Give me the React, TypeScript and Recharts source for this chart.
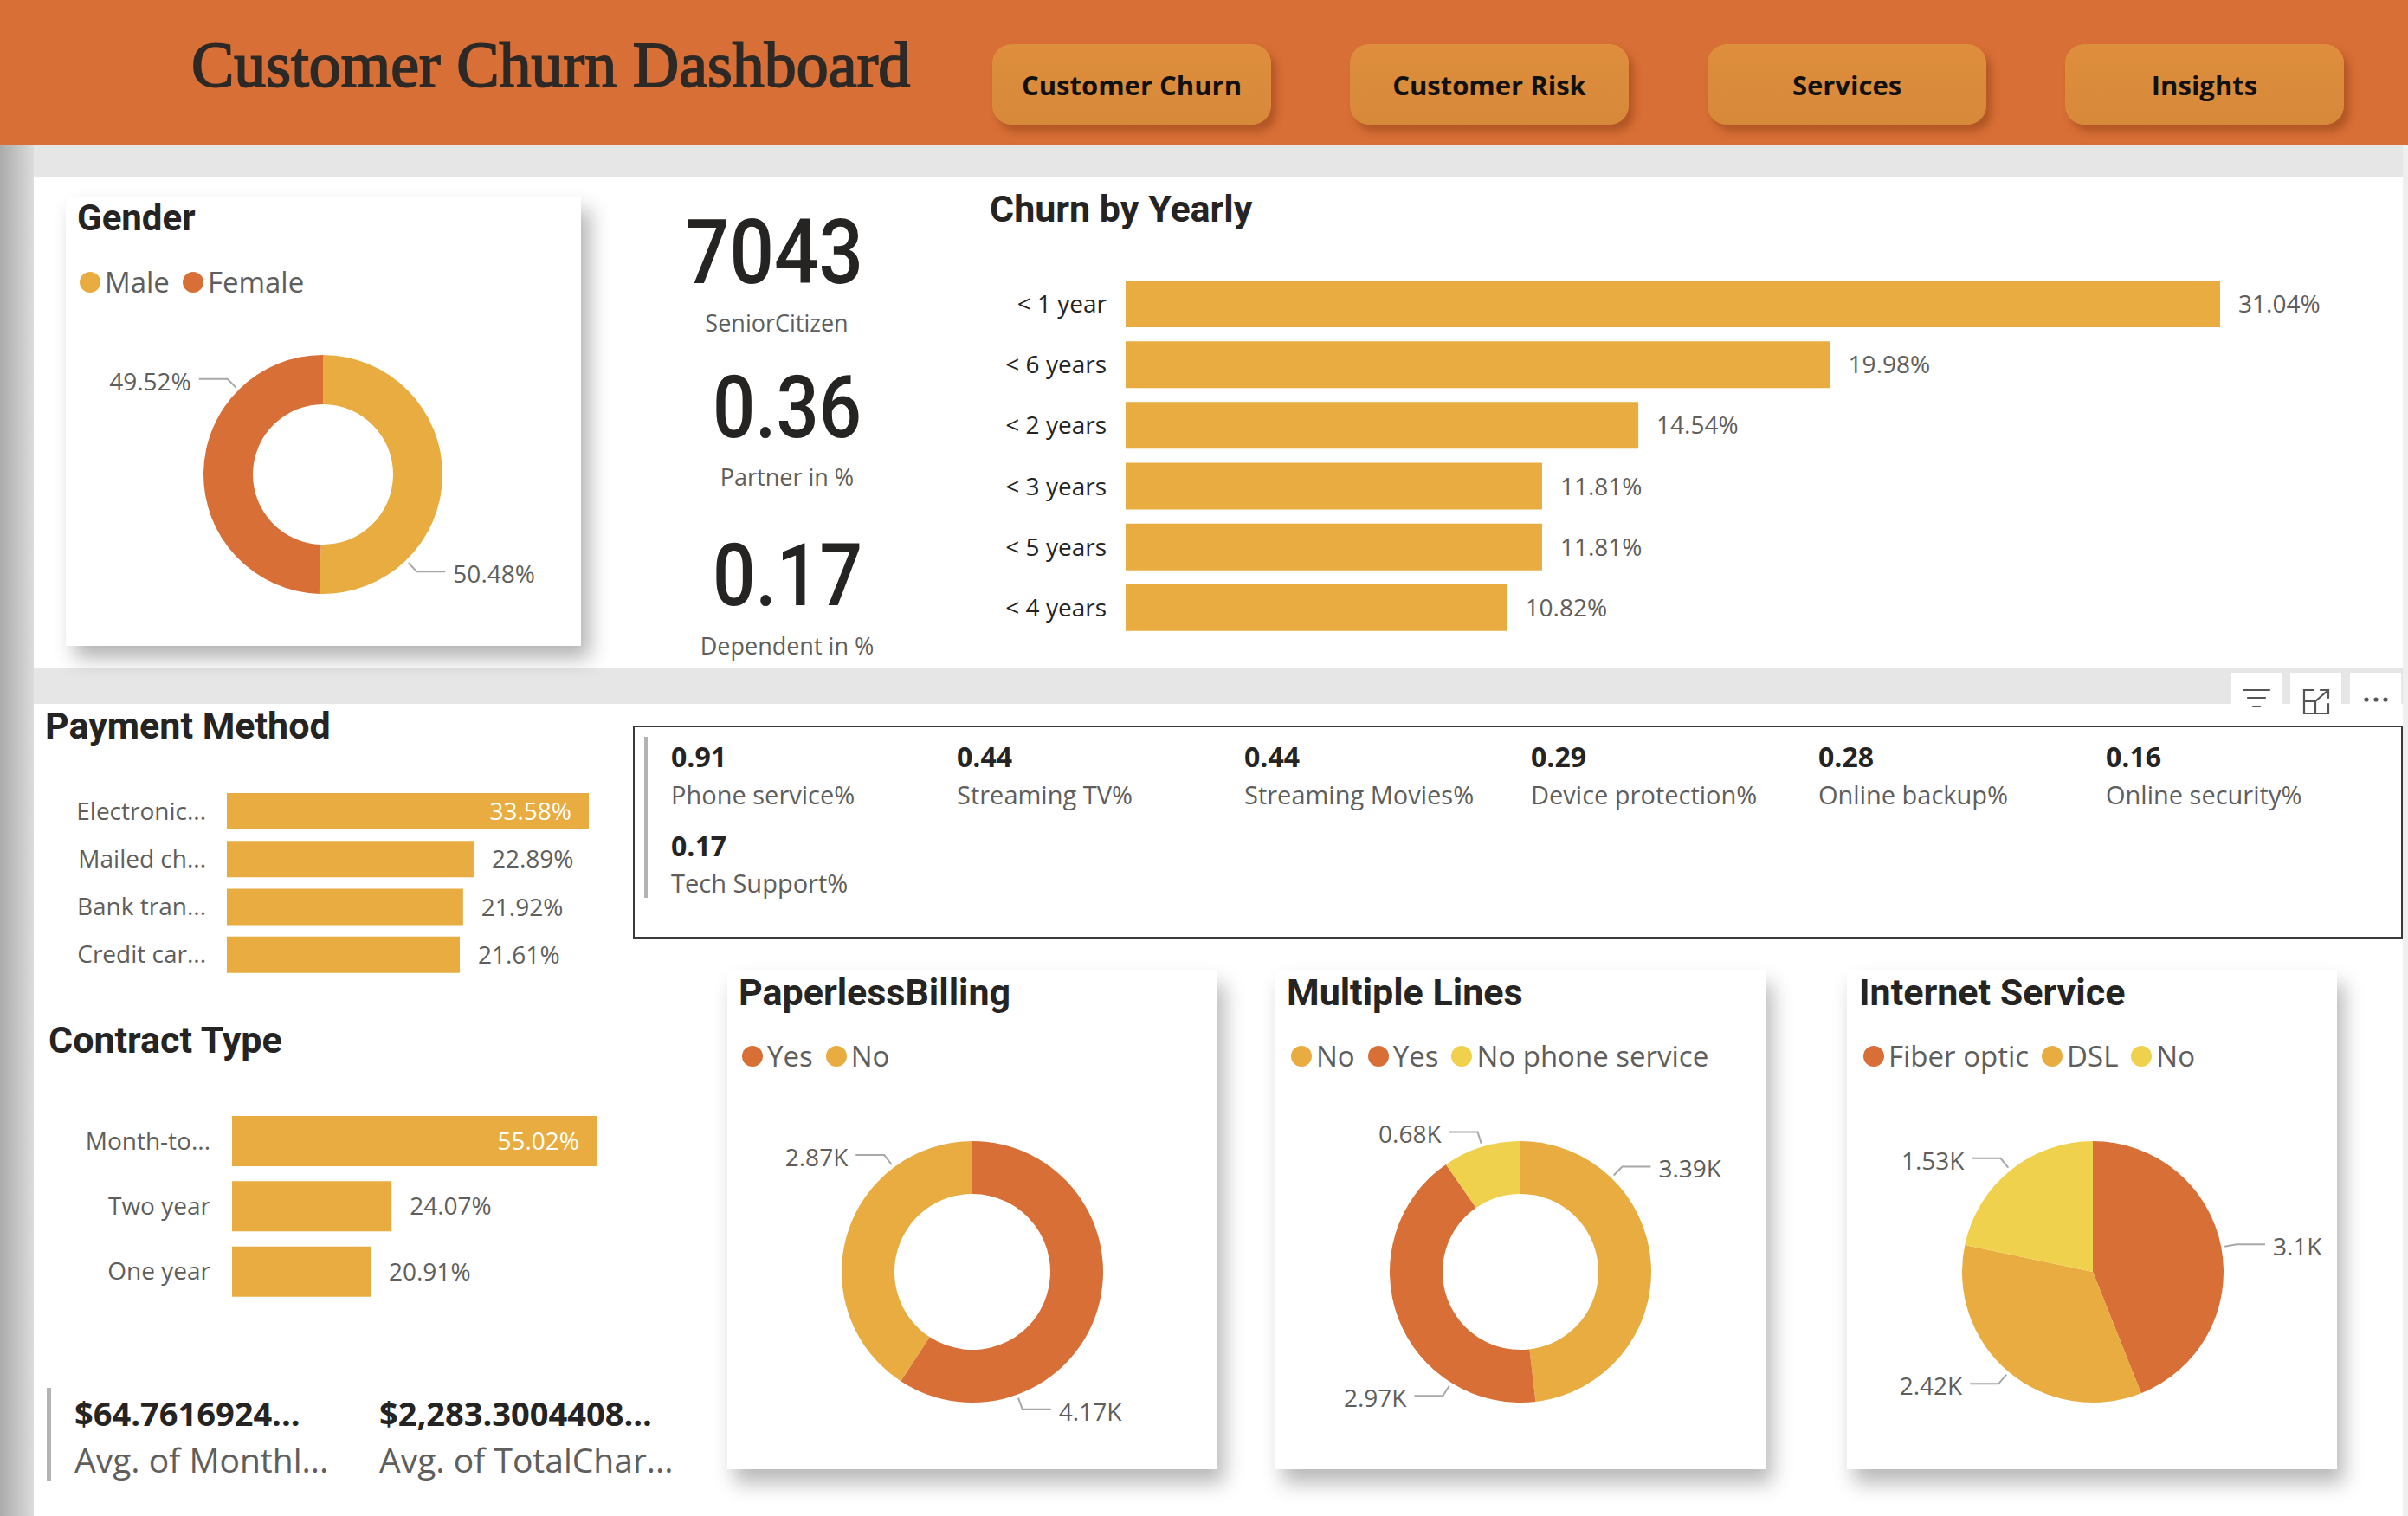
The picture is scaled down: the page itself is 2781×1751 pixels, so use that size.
import React from 'react';
import { BarChart, Bar, XAxis, YAxis, LabelList, PieChart, Pie, Cell } from 'recharts';

// ---------- data ----------
const navButtons = ['Customer Churn', 'Customer Risk', 'Services', 'Insights'];

const genderNames = ['Male', 'Female'];
const genderPct = [50.48, 49.52];

const kpiValues = ['7043', '0.36', '0.17'];
const kpiLabels = ['SeniorCitizen', 'Partner in %', 'Dependent in %'];

const tenureGroups = ['< 1 year', '< 6 years', '< 2 years', '< 3 years', '< 5 years', '< 4 years'];
const tenureChurnPct = [31.04, 19.98, 14.54, 11.81, 11.81, 10.82];

const paymentMethods = ['Electronic check', 'Mailed check', 'Bank transfer (automatic)', 'Credit card (automatic)'];
const paymentPct = [33.58, 22.89, 21.92, 21.61];

const contractTypes = ['Month-to-month', 'Two year', 'One year'];
const contractPct = [55.02, 24.07, 20.91];

const serviceValues = [0.91, 0.44, 0.44, 0.29, 0.28, 0.16, 0.17];
const serviceLabels = ['Phone service%', 'Streaming TV%', 'Streaming Movies%', 'Device protection%', 'Online backup%', 'Online security%', 'Tech Support%'];

const chargeValues = ['$64.7616924...', '$2,283.3004408...'];
const chargeLabels = ['Avg. of Monthl...', 'Avg. of TotalChar...'];

const paperlessNames = ['Yes', 'No'];
const paperlessK = [4.17, 2.87];

const multipleLinesNames = ['No', 'Yes', 'No phone service'];
const multipleLinesK = [3.39, 2.97, 0.68];

const internetNames = ['Fiber optic', 'DSL', 'No'];
const internetK = [3.1, 2.42, 1.53];

// ---------- style ----------
const ORANGE = '#D86F36';
const GOLD = '#E8AC40';
const LIGHT = '#F0D14E';
const FONT = '"Open Sans", "Noto Sans", sans-serif';
const DIN = 'Roboto, "DejaVu Sans", sans-serif';
const DARK = '#252423';
const GREY = '#605E5C';

const genderColors = [GOLD, ORANGE];
const paperlessColors = [ORANGE, GOLD];
const multipleColors = [GOLD, ORANGE, LIGHT];
const internetColors = [ORANGE, GOLD, LIGHT];

// label anchor angles used by the donut visuals (Power BI places them off-centre)
const genderLabelAngles = [-46, 135];
const paperlessLabelAngles = [-70, 127];
const multipleLabelAngles = [46, -122, 107];

// ---------- helpers ----------
let _ctx: CanvasRenderingContext2D | null = null;
function measure(text: string, font: string): number {
  if (!_ctx) _ctx = document.createElement('canvas').getContext('2d');
  if (!_ctx) return text.length * 14;
  _ctx.font = font;
  return _ctx.measureText(text).width;
}
function fitText(text: string, maxW: number, font: string): string {
  if (measure(text, font) <= maxW) return text;
  let s = text;
  const trim = (t: string) => t.replace(/[\s\-(]+$/, '');
  while (s.length > 1 && measure(trim(s) + '...', font) > maxW) s = s.slice(0, -1);
  return trim(s) + '...';
}

const RAD = Math.PI / 180;
function makePieLabel(fmt: (v: number) => string, angles?: number[]) {
  return (props: any) => {
    const { cx, cy, outerRadius, midAngle, index, value } = props;
    const a = angles ? angles[index] : midAngle;
    const cos = Math.cos(-a * RAD);
    const sin = Math.sin(-a * RAD);
    const x0 = cx + (outerRadius + 4) * cos;
    const y0 = cy + (outerRadius + 4) * sin;
    const x1 = cx + (outerRadius + 18) * cos;
    const y1 = cy + (outerRadius + 18) * sin;
    const dir = cos >= 0 ? 1 : -1;
    const x2 = x1 + dir * 33;
    return (
      <g key={`lbl-${index}`}>
        <polyline points={`${x0},${y0} ${x1},${y1} ${x2},${y1}`} fill="none" stroke="#A8A8A8" strokeWidth={2} />
        <text x={x2 + dir * 9} y={y1} dy={13} textAnchor={dir > 0 ? 'start' : 'end'} fill={GREY} fontSize={28} fontFamily={FONT}>
          {fmt(Number(value))}
        </text>
      </g>
    );
  };
}

function makeBarLabel(chartWidth: number) {
  return (props: any) => {
    const vb = props.viewBox || {};
    const x = Number(vb.x ?? props.x);
    const y = Number(vb.y ?? props.y);
    const w = Number(vb.width ?? props.width);
    const h = Number(vb.height ?? props.height);
    const text = `${Number(props.value).toFixed(2)}%`;
    const tw = measure(text, `28px "Open Sans"`);
    const outX = x + w + 21;
    const cy = y + h / 2;
    if (outX + tw <= chartWidth) {
      return (
        <text key={`b-${props.index}`} x={outX} y={cy} dy={10} fill={GREY} fontSize={28} fontFamily={FONT}>{text}</text>
      );
    }
    return (
      <text key={`b-${props.index}`} x={x + w - 20} y={cy} dy={10} textAnchor="end" fill="#FFFFFF" fontSize={28} fontFamily={FONT}>{text}</text>
    );
  };
}

const abs = (left: number, top: number, width: number, height: number, extra: React.CSSProperties = {}): React.CSSProperties => ({
  position: 'absolute', left, top, width, height, ...extra,
});

function Legend({ left, cy, names, colors }: { left: number; cy: number; names: string[]; colors: string[] }) {
  return (
    <div style={{ position: 'absolute', left, top: cy - 22, height: 44, display: 'flex', alignItems: 'center', fontFamily: FONT, fontSize: 33, color: GREY, whiteSpace: 'nowrap' }}>
      {names.map((n, i) => (
        <div key={n + i} style={{ display: 'flex', alignItems: 'center', marginRight: 15 }}>
          <span style={{ width: 24, height: 24, borderRadius: 12, background: colors[i], display: 'inline-block', marginRight: 5 }} />
          <span style={{ lineHeight: '44px' }}>{n}</span>
        </div>
      ))}
    </div>
  );
}

function PieBlock(p: {
  left: number; top: number; width: number; height: number; cx: number; cy: number;
  names: string[]; values: number[]; colors: string[]; inner: number; outer: number;
  fmt: (v: number) => string; angles?: number[];
}) {
  const data = p.names.map((n, i) => ({ name: n, value: p.values[i] }));
  return (
    <div style={abs(p.left, p.top, p.width, p.height)}>
      <PieChart width={p.width} height={p.height} margin={{ top: 0, right: 0, bottom: 0, left: 0 }}>
        <Pie
          data={data}
          dataKey="value"
          nameKey="name"
          cx={p.cx}
          cy={p.cy}
          innerRadius={p.inner}
          outerRadius={p.outer}
          startAngle={90}
          endAngle={-270}
          stroke="none"
          isAnimationActive={false}
          labelLine={false}
          label={makePieLabel(p.fmt, p.angles)}
        >
          {data.map((d, i) => (
            <Cell key={d.name} fill={p.colors[i]} />
          ))}
        </Pie>
      </PieChart>
    </div>
  );
}

const pct = (v: number) => `${v.toFixed(2)}%`;
const kFmt = (v: number) => `${v}K`;

export default function App() {
  const tenureData = tenureGroups.map((n, i) => ({ name: n, value: tenureChurnPct[i] }));
  const paymentData = paymentMethods.map((n, i) => ({ name: n, value: paymentPct[i] }));
  const contractData = contractTypes.map((n, i) => ({ name: n, value: contractPct[i] }));
  const labelFont = `28px "Open Sans"`;

  const buttonLefts = [1146, 1559, 1972, 2385];
  const serviceCols = [775, 1105, 1437, 1768, 2100, 2432];
  const cardShadow = '8px 16px 22px rgba(0,0,0,0.28)';

  return (
    <div style={{ position: 'absolute', left: 0, top: 0, width: 2781, height: 1751, background: '#E6E6E6', overflow: 'hidden', fontFamily: FONT }}>
      {/* left strip */}
      <div style={abs(0, 168, 39, 1583, { background: 'linear-gradient(to right, #ababab, #dcdcdc)' })} />
      <div style={abs(2775, 168, 6, 1583, { background: '#EFEFEF' })} />
      {/* header */}
      <div style={abs(0, 0, 2781, 168, { background: ORANGE })} />
      {navButtons.map((b, i) => (
        <div key={b} style={abs(buttonLefts[i], 51, 322, 93, {
          background: 'linear-gradient(#DE8E3C, #D7893A)', borderRadius: 22,
          boxShadow: '6px 8px 10px rgba(130,55,15,0.45)', display: 'flex', alignItems: 'center', justifyContent: 'center',
          fontFamily: FONT, fontWeight: 700, fontSize: 31, color: '#111',
        })}>{b}</div>
      ))}

      {/* panels */}
      <div style={abs(39, 204, 2736, 568, { background: '#fff' })} />
      <div style={abs(39, 813, 2736, 938, { background: '#fff' })} />
      {[2577, 2645, 2714].map((x) => (
        <div key={x} style={abs(x, 777, 59, 40, { background: '#fff' })} />
      ))}

      {/* cards */}
      <div style={abs(76, 228, 595, 518, { background: '#fff', boxShadow: '10px 14px 22px rgba(0,0,0,0.30)' })} />
      <div style={abs(731, 838, 2044, 246, { border: '2px solid #3a3a3a', boxSizing: 'border-box' })} />
      <div style={abs(744, 851, 4, 186, { background: '#B3B3B3' })} />
      <div style={abs(54, 1603, 5, 108, { background: '#B3B3B3' })} />
      {[840, 1473, 2133].map((x) => (
        <div key={x} style={abs(x, 1120, 566, 577, { background: '#fff', boxShadow: cardShadow })} />
      ))}

      {/* static text */}
      <svg width={2781} height={1751} style={{ position: 'absolute', left: 0, top: 0, pointerEvents: 'none' }}>
        <text x={221} y={100} fontFamily='"Liberation Serif", serif' fontSize={74} fill="#2d2926" stroke="#2d2926" strokeWidth={1.8}>Customer Churn Dashboard</text>

        <text x={89} y={266} fontFamily={DIN} fontWeight={700} fontSize={42} fill={DARK}>Gender</text>
        <text x={1143} y={256} fontFamily={DIN} fontWeight={700} fontSize={43} fill={DARK}>Churn by Yearly</text>
        <text x={52} y={853} fontFamily={DIN} fontWeight={700} fontSize={43} fill={DARK}>Payment Method</text>
        <text x={56} y={1216} fontFamily={DIN} fontWeight={700} fontSize={43} fill={DARK}>Contract Type</text>
        <text x={853} y={1161} fontFamily={DIN} fontWeight={700} fontSize={43} fill={DARK}>PaperlessBilling</text>
        <text x={1486} y={1161} fontFamily={DIN} fontWeight={700} fontSize={43} fill={DARK}>Multiple Lines</text>
        <text x={2147} y={1161} fontFamily={DIN} fontWeight={700} fontSize={43} fill={DARK}>Internet Service</text>

        {/* KPI column */}
        <text x={791} y={327} fontFamily={DIN} fontWeight={500} fontSize={103} fill={DARK} textLength={206} lengthAdjust="spacingAndGlyphs">{kpiValues[0]}</text>
        <text x={897} y={383} textAnchor="middle" fontFamily={FONT} fontSize={27} fill={GREY}>{kpiLabels[0]}</text>
        <text x={823} y={505} fontFamily={DIN} fontWeight={500} fontSize={100} fill={DARK} textLength={172} lengthAdjust="spacingAndGlyphs">{kpiValues[1]}</text>
        <text x={909} y={561} textAnchor="middle" fontFamily={FONT} fontSize={27} fill={GREY}>{kpiLabels[1]}</text>
        <text x={823} y={699} fontFamily={DIN} fontWeight={500} fontSize={100} fill={DARK} textLength={173} lengthAdjust="spacingAndGlyphs">{kpiValues[2]}</text>
        <text x={909} y={756} textAnchor="middle" fontFamily={FONT} fontSize={27} fill={GREY}>{kpiLabels[2]}</text>

        {/* multi-row services card */}
        {serviceValues.map((v, i) => {
          const row = i < 6 ? 0 : 1;
          const x = serviceCols[i < 6 ? i : 0];
          const vy = row === 0 ? 886 : 989;
          const ly = row === 0 ? 929 : 1031;
          return (
            <g key={serviceLabels[i]}>
              <text x={x} y={vy} fontFamily={FONT} fontWeight={700} fontSize={32} fill={DARK}>{v.toFixed(2)}</text>
              <text x={x} y={ly} fontFamily={FONT} fontSize={29} fill={GREY}>{serviceLabels[i]}</text>
            </g>
          );
        })}

        {/* charges cards */}
        {chargeValues.map((v, i) => (
          <g key={v}>
            <text x={i === 0 ? 86 : 438} y={1647} fontFamily={FONT} fontWeight={700} fontSize={38} fill={DARK}>{v}</text>
            <text x={i === 0 ? 86 : 438} y={1701} fontFamily={FONT} fontSize={39} fill={GREY}>{chargeLabels[i]}</text>
          </g>
        ))}

        {/* visual header icons */}
        <g stroke="#555" strokeWidth={2.2} fill="none" strokeLinecap="round">
          <line x1={2591} y1={797} x2={2621} y2={797} />
          <line x1={2596} y1={806} x2={2616} y2={806} />
          <line x1={2602} y1={816} x2={2610} y2={816} />
          <polyline points="2672,797 2661,797 2661,824 2689,824 2689,813" />
          <polyline points="2661,810 2674,810 2674,824" />
          <line x1={2674} y1={810} x2={2689} y2={797} />
          <polyline points="2680,797 2689,797 2689,806" />
        </g>
        <g fill="#555">
          <circle cx={2733} cy={808} r={2.6} />
          <circle cx={2744} cy={808} r={2.6} />
          <circle cx={2755} cy={808} r={2.6} />
        </g>
      </svg>

      {/* legends */}
      <Legend left={92} cy={326} names={genderNames} colors={genderColors} />
      <Legend left={857} cy={1220} names={paperlessNames} colors={paperlessColors} />
      <Legend left={1491} cy={1220} names={multipleLinesNames} colors={multipleColors} />
      <Legend left={2152} cy={1220} names={internetNames} colors={internetColors} />

      {/* Churn by Yearly */}
      <div style={abs(1100, 316, 1664, 421)}>
        <BarChart width={1664} height={421} data={tenureData} layout="vertical" margin={{ top: 0, right: 200, bottom: 0, left: 0 }}>
          <XAxis type="number" hide domain={[0, 'dataMax']} />
          <YAxis type="category" dataKey="name" width={200} axisLine={false} tickLine={false} tickSize={0} tickMargin={22} interval={0}
            tick={{ fill: DARK, fontSize: 28, fontFamily: FONT }} />
          <Bar dataKey="value" fill={GOLD} barSize={54} isAnimationActive={false}>
            <LabelList dataKey="value" content={makeBarLabel(1664)} />
          </Bar>
        </BarChart>
      </div>

      {/* Payment Method */}
      <div style={abs(40, 909, 670, 221)}>
        <BarChart width={670} height={221} data={paymentData} layout="vertical" margin={{ top: 0, right: 30, bottom: 0, left: 0 }}>
          <XAxis type="number" hide domain={[0, 'dataMax']} />
          <YAxis type="category" dataKey="name" width={222} axisLine={false} tickLine={false} tickSize={0} tickMargin={24} interval={0}
            tickFormatter={(v: string) => fitText(v, 154, labelFont)}
            tick={{ fill: GREY, fontSize: 28, fontFamily: FONT }} />
          <Bar dataKey="value" fill={GOLD} barSize={42} isAnimationActive={false}>
            <LabelList dataKey="value" content={makeBarLabel(670)} />
          </Bar>
        </BarChart>
      </div>

      {/* Contract Type */}
      <div style={abs(40, 1280, 680, 226)}>
        <BarChart width={680} height={226} data={contractData} layout="vertical" margin={{ top: 0, right: 31, bottom: 0, left: 0 }}>
          <XAxis type="number" hide domain={[0, 'dataMax']} />
          <YAxis type="category" dataKey="name" width={228} axisLine={false} tickLine={false} tickSize={0} tickMargin={25} interval={0}
            tickFormatter={(v: string) => fitText(v, 154, labelFont)}
            tick={{ fill: GREY, fontSize: 28, fontFamily: FONT }} />
          <Bar dataKey="value" fill={GOLD} barSize={58} isAnimationActive={false}>
            <LabelList dataKey="value" content={makeBarLabel(680)} />
          </Bar>
        </BarChart>
      </div>

      {/* pies */}
      <PieBlock left={76} top={228} width={595} height={518} cx={297} cy={320} names={genderNames} values={genderPct}
        colors={genderColors} inner={81} outer={138} fmt={pct} angles={genderLabelAngles} />
      <PieBlock left={840} top={1120} width={566} height={577} cx={283} cy={349} names={paperlessNames} values={paperlessK}
        colors={paperlessColors} inner={90} outer={151} fmt={kFmt} angles={paperlessLabelAngles} />
      <PieBlock left={1473} top={1120} width={566} height={577} cx={283} cy={349} names={multipleLinesNames} values={multipleLinesK}
        colors={multipleColors} inner={90} outer={151} fmt={kFmt} angles={multipleLabelAngles} />
      <PieBlock left={2133} top={1120} width={566} height={577} cx={284} cy={349} names={internetNames} values={internetK}
        colors={internetColors} inner={0} outer={151} fmt={kFmt} />
    </div>
  );
}
